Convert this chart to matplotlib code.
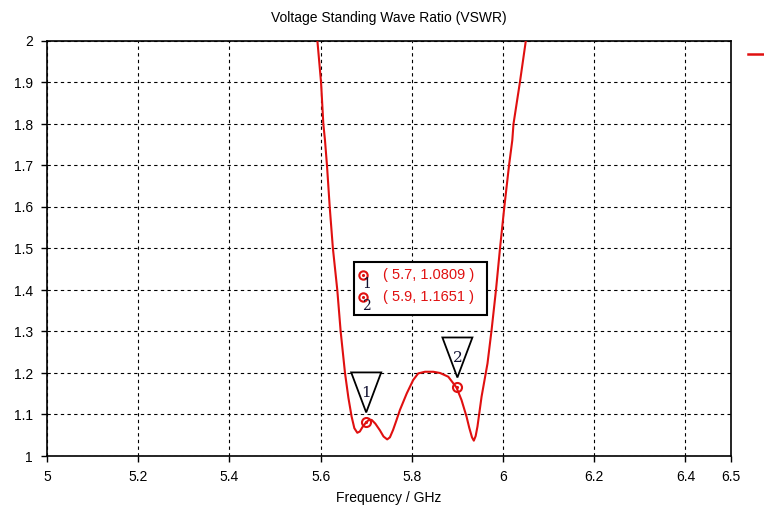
import numpy as np
import matplotlib.pyplot as plt
import matplotlib as mpl
from matplotlib.patches import Polygon, Rectangle
from matplotlib.lines import Line2D
from matplotlib.transforms import ScaledTranslation

mpl.rcParams['font.family'] = ['Liberation Sans', 'DejaVu Sans']
mpl.rcParams['font.size'] = 10

# ---- data ----
freq = [5.585, 5.593, 5.601, 5.606, 5.6096, 5.614, 5.620, 5.627, 5.6366, 5.644,
        5.6535, 5.661, 5.668, 5.674, 5.6805, 5.686, 5.692, 5.6996, 5.706, 5.712,
        5.720, 5.730, 5.738, 5.746, 5.752, 5.759, 5.766, 5.774,
        5.789, 5.803, 5.814, 5.829, 5.847, 5.862, 5.880, 5.898, 5.909, 5.920,
        5.926, 5.932, 5.936, 5.940, 5.944, 5.953, 5.966, 5.975, 5.9846, 5.9934,
        6.0029, 6.0132, 6.0204, 6.023, 6.037, 6.050, 6.063]
vswr = [2.10, 2.00, 1.90, 1.80, 1.761, 1.70, 1.60, 1.50, 1.40, 1.30,
        1.20, 1.14, 1.095, 1.067, 1.056, 1.059, 1.070, 1.081, 1.087, 1.087,
        1.078, 1.062, 1.047, 1.040, 1.045, 1.063, 1.085, 1.111,
        1.151, 1.183, 1.199, 1.203, 1.203, 1.200, 1.191, 1.165, 1.135, 1.095,
        1.068, 1.045, 1.037, 1.048, 1.071, 1.143, 1.223, 1.304, 1.40, 1.50,
        1.60, 1.70, 1.761, 1.80, 1.90, 2.00, 2.10]

marker_x = [5.7, 5.9]
marker_y = [1.0809, 1.1651]

xticks = [5, 5.2, 5.4, 5.6, 5.8, 6, 6.2, 6.4, 6.5]
xtick_labels = ['5', '5.2', '5.4', '5.6', '5.8', '6', '6.2', '6.4', '6.5']
yticks = [1, 1.1, 1.2, 1.3, 1.4, 1.5, 1.6, 1.7, 1.8, 1.9, 2]
ytick_labels = ['1', '1.1', '1.2', '1.3', '1.4', '1.5', '1.6', '1.7', '1.8', '1.9', '2']

RED = '#e01010'

fig = plt.figure(figsize=(7.64, 5.11), dpi=100)
ax = fig.add_axes([47 / 764, 55 / 511, 684 / 764, 415 / 511])

ax.plot(freq, vswr, color=RED, lw=1.5, zorder=3, clip_on=True)
ax.set_xlim(5, 6.5)
ax.set_ylim(1, 2)
ax.set_xticks(xticks)
ax.set_xticklabels(xtick_labels)
ax.set_yticks(yticks)
ax.set_yticklabels(ytick_labels)
ax.tick_params(direction='out', length=4, width=1, color='black', pad=6)
ax.grid(True, color='black', linestyle=(0, (3, 3)), linewidth=0.8)
for s in ax.spines.values():
    s.set_linewidth(1.2)
ax.set_title('Voltage Standing Wave Ratio (VSWR)', fontsize=10, pad=14)
ax.set_xlabel('Frequency / GHz', fontsize=10, labelpad=5)

# markers on the curve
ax.plot(marker_x, marker_y, 'o', ms=6.5, mfc='none', mec=RED, mew=1.5, zorder=5)
ax.plot(marker_x, marker_y, '.', ms=2.5, color=RED, zorder=5)

# triangle flags above the markers
for i, (mx, my) in enumerate(zip(marker_x, marker_y)):
    tr = fig.dpi_scale_trans + ScaledTranslation(mx, my, ax.transData)
    tri = Polygon([(0, 0.10), (-0.15, 0.50), (0.15, 0.50)], closed=True,
                  transform=tr, facecolor='white', edgecolor='black', lw=1.3, zorder=4)
    ax.add_patch(tri)
    ax.annotate(str(i + 1), xy=(mx, my), xytext=(0, 21), textcoords='offset points',
                ha='center', va='center', fontsize=11, family='DejaVu Serif',
                color='#101030', zorder=6)

# info box
box = Rectangle((0.4488, 0.3398), 0.1944, 0.1277, transform=ax.transAxes,
                facecolor='white', edgecolor='black', lw=1.5, zorder=6)
ax.add_patch(box)
row_y = [(456 - 275) / 415, (456 - 297.3) / 415]
for i, (mx, my) in enumerate(zip(marker_x, marker_y)):
    ax.plot([(363.3 - 47) / 684], [row_y[i]], 'o', ms=6, mfc='none', mec=RED,
            mew=1.5, transform=ax.transAxes, zorder=7, clip_on=False)
    ax.plot([(363.3 - 47) / 684], [row_y[i]], '.', ms=2.5, color=RED,
            transform=ax.transAxes, zorder=7, clip_on=False)
    ax.text((366.7 - 47) / 684, row_y[i] - 8.5 / 415, str(i + 1), transform=ax.transAxes,
            ha='center', va='center', fontsize=10, family='DejaVu Serif',
            color='#101030', zorder=8)
    ax.text((383 - 47) / 684, row_y[i], f'( {mx:g}, {my:.4f} )', transform=ax.transAxes,
            ha='left', va='center', fontsize=10.5, color=RED, zorder=8)

# legend stub at the right edge
fig.add_artist(Line2D([748 / 764, 1.0], [1 - 54 / 511] * 2, color=RED, lw=1.8))

fig.savefig('out.png', dpi=100, facecolor='white')
